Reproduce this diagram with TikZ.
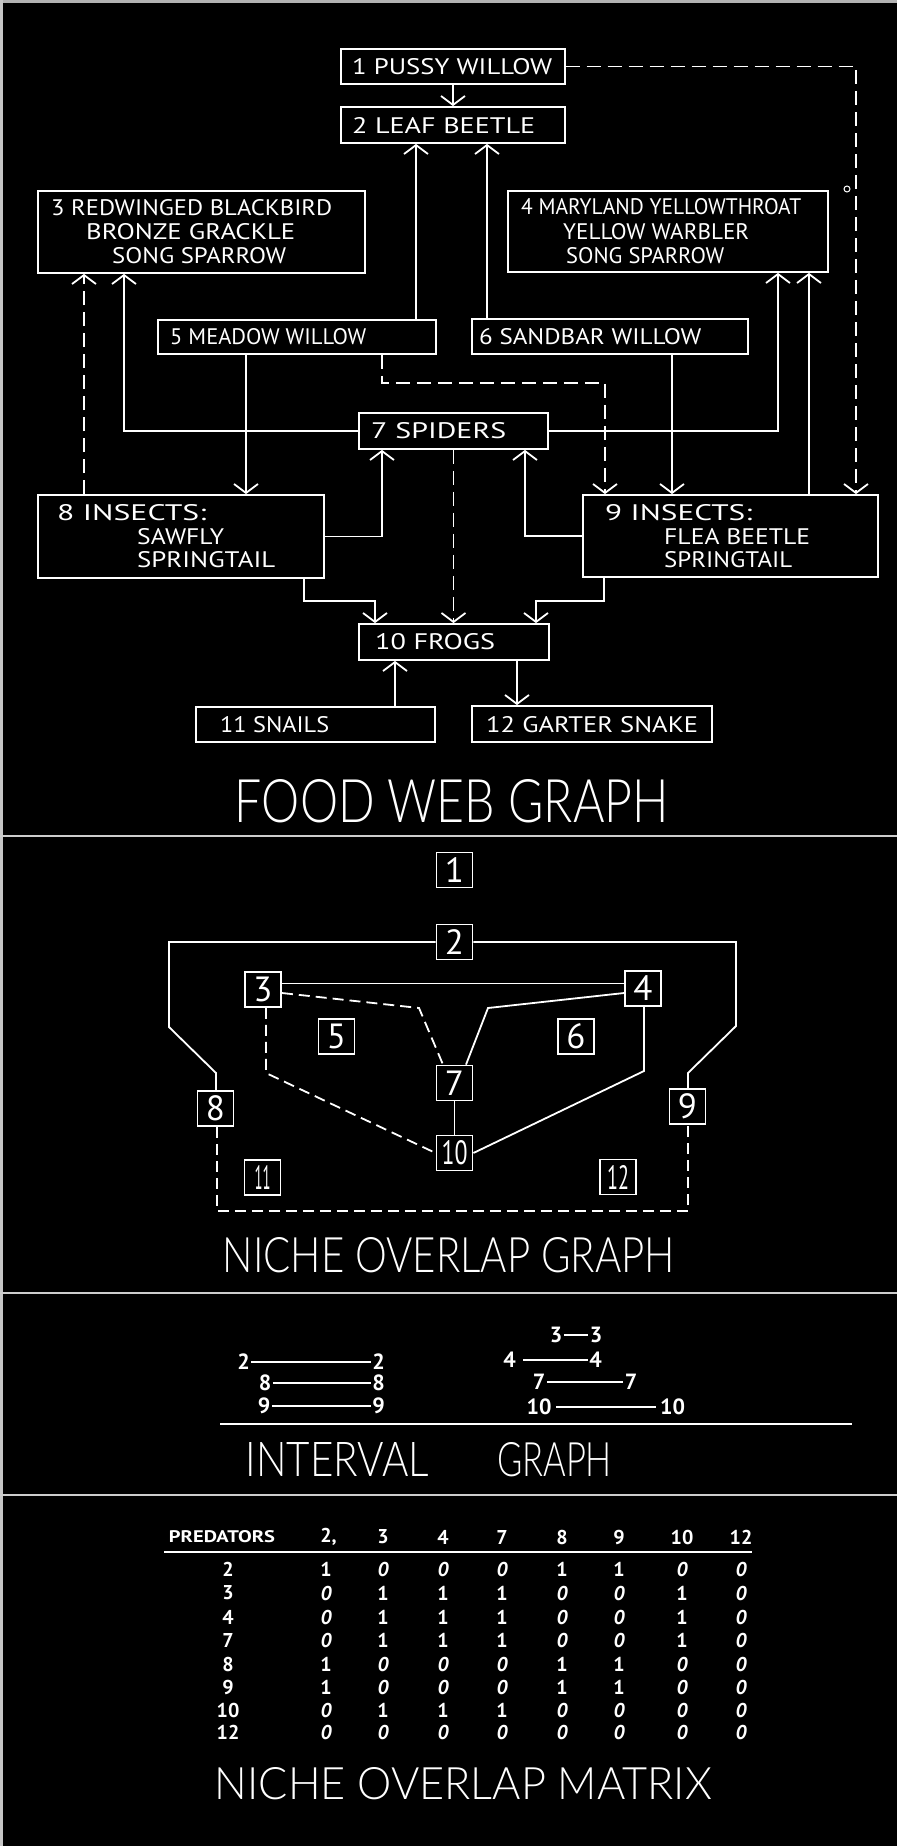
\documentclass[tikz,border=0pt]{standalone}
\usepackage{fontspec}
\setmainfont{PT Sans}
\newfontfamily\thinfont{Lato Light}
\usetikzlibrary{arrows.meta}
\newcommand{\fitbox}[3]{\resizebox{#1pt}{#2pt}{#3}}
\begin{document}
\begin{tikzpicture}[x=1pt,y=-1pt,
  every node/.style={text=white, font=\fontsize{20}{20}\selectfont},
  box/.style={draw=white, line width=1.8pt, inner sep=0pt, rectangle},
  nbox/.style={draw=white, line width=1.8pt, inner sep=0pt, rectangle, minimum width=36pt, minimum height=35pt, font=\fontsize{35}{35}\selectfont},
  lbl/.style={anchor=west, inner sep=0pt},
  ttl/.style={inner sep=0pt, font=\thinfont\fontsize{20}{20}\selectfont},
  ln/.style={draw=white, line width=1.8pt},
  dsh/.style={ln, dash pattern=on 14pt off 7pt},
  dshb/.style={ln, dash pattern=on 11pt off 6pt},
  arr/.style={-{Straight Barb[length=9pt,width=24pt,line width=1.8pt]}},
  ival/.style={inner sep=1.5pt, font=\bfseries\fontsize{22}{22}\selectfont},
  mnum/.style={inner sep=0pt, font=\bfseries\fontsize{20}{20}\selectfont},
  sep/.style={draw=gray!40!white, line width=2.5pt},
]
\useasboundingbox (0,0) rectangle (897,1846);
\fill[black] (0,0) rectangle (897,1846);
\fill[gray!60] (0,0) rectangle (897,3);
\fill[gray!45] (0,0) rectangle (3,1846);

% ---------------- FOOD WEB GRAPH ----------------
\node[box, minimum width=223.5pt, minimum height=35pt] (b1) at (453,66.5) {};
\node[box, minimum width=223.5pt, minimum height=36pt] (b2) at (453,125) {};
\node[box, minimum width=327pt, minimum height=82pt] (b3) at (201.5,232) {};
\node[box, minimum width=320pt, minimum height=81pt] (b4) at (668,231.5) {};
\node[box, minimum width=278pt, minimum height=34pt] (b5) at (297,337) {};
\node[box, minimum width=276pt, minimum height=35pt] (b6) at (610,336.5) {};
\node[box, minimum width=189pt, minimum height=36pt] (b7) at (453.5,431) {};
\node[box, minimum width=286pt, minimum height=83pt] (b8) at (181,536.5) {};
\node[box, minimum width=295pt, minimum height=82pt] (b9) at (730.5,536) {};
\node[box, minimum width=190pt, minimum height=36pt] (b10) at (454,642) {};
\node[box, minimum width=239pt, minimum height=35pt] (b11) at (315.5,724.5) {};
\node[box, minimum width=240pt, minimum height=36pt] (b12) at (592,724) {};

\node[lbl] (t1) at (352,67) {\fitbox{200}{16}{1 PUSSY WILLOW}};
\node[lbl] (t2) at (352,126) {\fitbox{183}{16}{2 LEAF BEETLE}};
\node[lbl] (t3a) at (51,208) {\fitbox{281}{16}{3 REDWINGED BLACKBIRD}};
\node[lbl] (t3b) at (86,232) {\fitbox{209}{16}{BRONZE GRACKLE}};
\node[lbl] (t3c) at (112,256) {\fitbox{174}{16}{SONG SPARROW}};
\node[lbl] (t4a) at (521,207) {\fitbox{280}{16}{4 MARYLAND YELLOWTHROAT}};
\node[lbl] (t4b) at (563,232) {\fitbox{186}{16}{YELLOW WARBLER}};
\node[lbl] (t4c) at (566,256) {\fitbox{158}{16}{SONG SPARROW}};
\node[lbl] (t5) at (170,337) {\fitbox{196}{16}{5 MEADOW WILLOW}};
\node[lbl] (t6) at (479,337) {\fitbox{222}{16}{6 SANDBAR WILLOW}};
\node[lbl] (t7) at (371,431) {\fitbox{135}{16}{7 SPIDERS}};
\node[lbl] (t8a) at (57,513) {\fitbox{149}{16}{8 INSECTS:}};
\node[lbl] (t8b) at (137,537) {\fitbox{87}{16}{SAWFLY}};
\node[lbl] (t8c) at (137,560) {\fitbox{138}{16}{SPRINGTAIL}};
\node[lbl] (t9a) at (605,513) {\fitbox{147}{16}{9 INSECTS:}};
\node[lbl] (t9b) at (664,537) {\fitbox{146}{16}{FLEA BEETLE}};
\node[lbl] (t9c) at (664,560) {\fitbox{128}{16}{SPRINGTAIL}};
\node[lbl] (t10) at (375,642) {\fitbox{120}{16}{10 FROGS}};
\node[lbl] (t11) at (220,725) {\fitbox{109}{16}{11 SNAILS}};
\node[lbl] (t12) at (486,725) {\fitbox{212}{16}{12 GARTER SNAKE}};

\coordinate (c1) at (856,66.5);
\coordinate (X416) at (416,0);
\coordinate (X487) at (487,0);
\coordinate (X246) at (246,0);
\coordinate (d5a) at (382,383);
\coordinate (d5b) at (605,383);
\coordinate (X672) at (672,0);
\coordinate (X84) at (84,0);
\coordinate (c73) at (124,431);
\coordinate (c74) at (778,431);
\coordinate (X809) at (809,0);
\coordinate (c87) at (382,536.5);
\coordinate (c97) at (525,536);
\coordinate (c8a) at (304,601);
\coordinate (c8b) at (375,601);
\coordinate (c9a) at (604,601);
\coordinate (c9b) at (536,601);
\coordinate (X395) at (395,0);
\coordinate (X517) at (517,0);

\draw[ln,arr] (b1.south) -- (b2.north);
\draw[dsh,arr] (b1.east) -- (c1) -- (c1 |- b9.north);
\draw[ln,arr] (b5.north -| X416) -- (b2.south -| X416);
\draw[ln,arr] (b6.north -| X487) -- (b2.south -| X487);
\draw[ln,arr] (b5.south -| X246) -- (b8.north -| X246);
\draw[dsh,arr] (b5.south -| d5a) -- (d5a) -- (d5b) -- (b9.north -| d5b);
\draw[ln,arr] (b6.south -| X672) -- (b9.north -| X672);
\draw[dsh,arr] (b8.north -| X84) -- (b3.south -| X84);
\draw[ln,arr] (b7.west) -- (c73) -- (b3.south -| c73);
\draw[ln,arr] (b7.east) -- (c74) -- (b4.south -| c74);
\draw[ln,arr] (b9.north -| X809) -- (b4.south -| X809);
\draw[ln,arr] (b8.east) -- (c87) -- (b7.south -| c87);
\draw[ln,arr] (b9.west) -- (c97) -- (b7.south -| c97);
\draw[dsh,arr] (b7.south) -- (b7.south |- b10.north);
\draw[ln,arr] (b8.south -| c8a) -- (c8a) -- (c8b) -- (b10.north -| c8b);
\draw[ln,arr] (b9.south -| c9a) -- (c9a) -- (c9b) -- (b10.north -| c9b);
\draw[ln,arr] (b11.north -| X395) -- (b10.south -| X395);
\draw[ln,arr] (b10.south -| X517) -- (b12.north -| X517);
\draw[white, line width=1pt] (847,189) circle (3);

\node[ttl] (ttl1) at (452,801.5) {\fitbox{434}{43}{FOOD WEB GRAPH}};

\draw[sep] (0,836) -- (897,836);

% ---------------- NICHE OVERLAP GRAPH ----------------
\node[nbox] (nb1) at (454.5,870) {1};
\node[nbox] (nb2) at (454.5,942) {2};
\node[nbox] (nb3) at (263,989.5) {3};
\node[nbox] (nb4) at (643,988.5) {4};
\node[nbox] (nb5) at (336.5,1036.5) {5};
\node[nbox] (nb6) at (576,1036.5) {6};
\node[nbox] (nb7) at (454.5,1083) {7};
\node[nbox] (nb8) at (215.5,1108.5) {8};
\node[nbox] (nb9) at (687.5,1106.5) {9};
\node[nbox] (nb10) at (454.5,1153) {\fitbox{26}{24}{10}};
\node[nbox] (nb11) at (262.5,1177.5) {\fitbox{16}{24}{11}};
\node[nbox] (nb12) at (618,1177) {\fitbox{22}{24}{12}};

\coordinate (p2l1) at (169,942);
\coordinate (p2l2) at (169,1027);
\coordinate (p2l3) at (216,1073);
\coordinate (p2r1) at (736,942);
\coordinate (p2r2) at (736,1026);
\coordinate (p2r3) at (688,1073);
\coordinate (q37) at (419,1008);
\coordinate (X443) at (443,0);
\coordinate (q47) at (488,1008);
\coordinate (X466) at (466,0);
\coordinate (q3) at (266,1073);
\coordinate (q4) at (644,1071);
\coordinate (q8) at (217,1211);
\coordinate (q9) at (688,1211);

\draw[ln] (nb2.west) -- (p2l1) -- (p2l2) -- (p2l3) -- (nb8.north -| p2l3);
\draw[ln] (nb2.east) -- (p2r1) -- (p2r2) -- (p2r3) -- (nb9.north -| p2r3);
\draw[ln] ([yshift=6pt]nb3.east) -- ([yshift=6pt]nb3.east -| nb4.west);
\draw[dshb] ([yshift=-3.5pt]nb3.east) -- (q37) -- (nb7.north -| X443);
\draw[ln] ([yshift=-4.5pt]nb4.west) -- (q47) -- (nb7.north -| X466);
\draw[ln] (nb7.south) -- (nb10.north);
\draw[dshb] (nb3.south -| q3) -- (q3) -- (nb10.west);
\draw[ln] (nb4.south -| q4) -- (q4) -- (nb10.east);
\draw[dshb] (nb8.south -| q8) -- (q8) -- (q9) -- (nb9.south -| q9);

\node[ttl] (ttl2) at (449,1255.5) {\fitbox{452}{35}{NICHE OVERLAP GRAPH}};

\draw[sep] (0,1293) -- (897,1293);

% ---------------- INTERVAL GRAPH ----------------
\node[ival] (i2l) at (243.5,1362) {2};
\node[ival] (i2r) at (378.5,1362) {2};
\node[ival] (i8l) at (265,1383) {8};
\node[ival] (i8r) at (378.5,1383) {8};
\node[ival] (i9l) at (264,1406) {9};
\node[ival] (i9r) at (378.5,1406) {9};
\node[ival] (i3l) at (556,1335) {3};
\node[ival] (i3r) at (596,1335) {3};
\node[ival] (i4l) at (509.5,1360) {4};
\node[ival] (i4r) at (595.5,1360) {4};
\node[ival] (i7l) at (539,1382) {7};
\node[ival] (i7r) at (631,1382) {7};
\node[ival] (i10l) at (539,1407) {10};
\node[ival] (i10r) at (672.5,1407) {10};
\draw[white, line width=1.4pt] (i2l) -- (i2r);
\draw[white, line width=1.4pt] (i8l) -- (i8r);
\draw[white, line width=1.4pt] (i9l) -- (i9r);
\draw[white, line width=1.4pt] (i3l) -- (i3r);
\draw[white, line width=1.4pt, shorten <=6pt] (i4l) -- (i4r);
\draw[white, line width=1.4pt] (i7l) -- (i7r);
\draw[white, line width=1.4pt, shorten <=3pt, shorten >=2pt] (i10l) -- (i10r);
\draw[white, line width=2pt] (220,1424) -- (852,1424);

\node[ttl] (ttl3) at (429,1460) {\fitbox{183}{34}{INTERVAL}\hspace{68pt}\fitbox{115}{34}{GRAPH}};

\draw[sep] (0,1495) -- (897,1495);

% ---------------- NICHE OVERLAP MATRIX ----------------
\node[inner sep=0pt, font=\bfseries] (hp) at (222,1537) {\fitbox{106}{12}{PREDATORS}};
\foreach \lab/\xx [count=\c] in {2/326,3/383,4/443,7/502,8/562,9/619,10/682,12/741} {
  \node[mnum] (h\c) at (\xx,1537) {\lab\ifnum\c=1\rlap{,}\fi};
}
\draw[white, line width=2pt] (164,1552) -- (752,1552);
\foreach \lab/\yy/\vals [count=\r] in {2/1569/{1,0,0,0,1,1,0,0},3/1593/{0,1,1,1,0,0,1,0},4/1617/{0,1,1,1,0,0,1,0},7/1640/{0,1,1,1,0,0,1,0},8/1664/{1,0,0,0,1,1,0,0},9/1687/{1,0,0,0,1,1,0,0},10/1710/{0,1,1,1,0,0,0,0},12/1732/{0,0,0,0,0,0,0,0}} {
  \node[mnum] (r\r) at (228,\yy) {\lab};
  \foreach \v [count=\c] in \vals {
    \pgfmathsetmacro\xx{{326,383,443,502,562,619,682,741}[\c-1]}
    \node[mnum] (m\r-\c) at (\xx,\yy) {\ifnum\v=0 \itshape 0\else 1\fi};
  }
}

\node[ttl] (ttl4) at (463.5,1784) {\fitbox{497}{32}{NICHE OVERLAP MATRIX}};
\end{tikzpicture}
\end{document}
